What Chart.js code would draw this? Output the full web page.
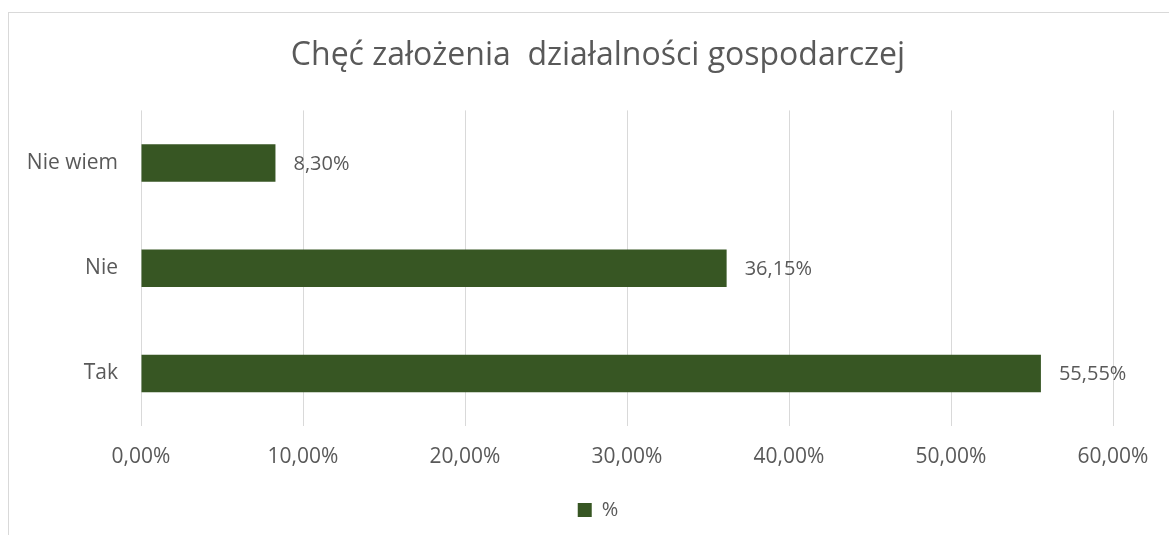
<!DOCTYPE html>
<html>
<head>
<meta charset="utf-8">
<script src="https://cdn.jsdelivr.net/npm/chart.js@4"></script>
<style>
  body { margin: 0; background: #fff; }
  #ramka { position: absolute; left: 8px; top: 12px; width: 1300px; height: 600px; border: 1px solid #d9d9d9; }
  #wykres { position: absolute; left: 0; top: 0; width: 1169px; height: 535px; overflow: hidden; }
</style>
</head>
<body>
<div id="ramka"></div>
<div id="wykres"><canvas id="graficaChec"></canvas></div>
<script>
// dane z wykresu
const kategorie = ['Nie wiem', 'Nie', 'Tak'];
const wartosci = [8.30, 36.15, 55.55];
const nazwaSerii = '%';
const tytul = 'Chęć założenia  działalności gospodarczej';

const kolorSlupka = '#375623';
const kolorTekstu = '#595959';
const czcionka = 'Open Sans';

function formatProcent(v) {
    return v.toFixed(2).replace('.', ',') + '%';
}

// etykiety danych przy końcu słupka
const etykietyDanych = {
    id: 'etykietyDanych',
    afterDatasetsDraw(chart) {
        const ctx = chart.ctx;
        const meta = chart.getDatasetMeta(0);
        ctx.save();
        ctx.font = '20px "' + czcionka + '"';
        ctx.fillStyle = kolorTekstu;
        ctx.textAlign = 'left';
        ctx.textBaseline = 'middle';
        meta.data.forEach((bar, i) => {
            ctx.fillText(formatProcent(wartosci[i]), bar.x + 18, bar.y + 1);
        });
        ctx.restore();
    }
};

const ctxChec = document.getElementById('graficaChec').getContext('2d');
new Chart(ctxChec, {
    type: 'bar',
    data: {
        labels: kategorie,
        datasets: [{
            label: nazwaSerii, data: wartosci,
            backgroundColor: kolorSlupka, borderWidth: 0,
            barPercentage: 0.356, categoryPercentage: 1
        }]
    },
    options: {
        indexAxis: 'y',
        responsive: true, maintainAspectRatio: false, animation: false,
        // lewy margines większy, żeby tytuł i legenda były wyśrodkowane jak w oryginale
        layout: { padding: { left: 83, right: 56, top: 0, bottom: 5 } },
        plugins: {
            title: {
                display: true, text: tytul, color: kolorTekstu,
                font: { family: czcionka, size: 32, weight: 'normal' },
                padding: { top: 37, bottom: 35 }
            },
            legend: {
                position: 'bottom',
                labels: {
                    color: kolorTekstu, boxWidth: 14, boxHeight: 14, padding: 10,
                    font: { family: czcionka, size: 20 }
                }
            },
            tooltip: { enabled: false }
        },
        scales: {
            x: {
                min: 0, max: 60,
                ticks: {
                    stepSize: 10, padding: 18, color: kolorTekstu,
                    font: { family: czcionka, size: 21 },
                    callback: v => formatProcent(v)
                },
                grid: { color: '#d9d9d9', lineWidth: 1, drawTicks: false },
                border: { display: false },
                afterFit: s => { s.height = 64; }
            },
            y: {
                ticks: { padding: 23, color: kolorTekstu, font: { family: czcionka, size: 21 } },
                grid: { display: false, drawTicks: false },
                border: { display: false },
                afterFit: s => {
                    s.width = 58;
                    // bez przycinania etykiet do wąskiej osi (wchodzą w margines)
                    s._computeLabelArea = () => undefined;
                }
            }
        }
    },
    plugins: [etykietyDanych]
});
</script>
</body>
</html>
